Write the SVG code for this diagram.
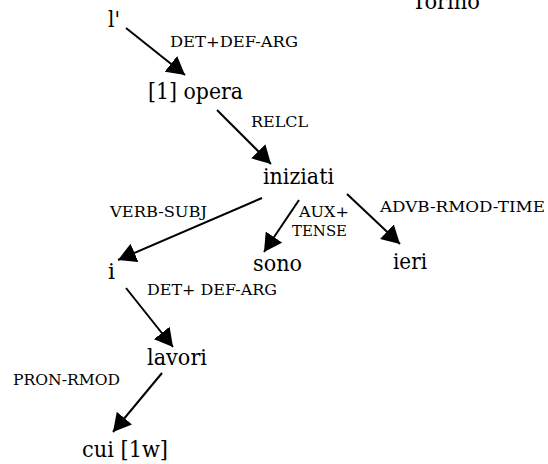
<svg xmlns="http://www.w3.org/2000/svg" width="548" height="464" viewBox="0 0 548 464">
<style>
text{font-family:'DejaVu Serif','Liberation Serif','Times New Roman',Times,serif;fill:#000}
.n{font-size:22px}
.l{font-size:15.5px}
.e{stroke:#000;stroke-width:2;fill:none;marker-end:url(#ah)}
</style>
<defs>
<marker id="ah" viewBox="0 0 18 20" refX="18" refY="10" markerWidth="18" markerHeight="20" markerUnits="userSpaceOnUse" orient="auto">
<path d="M0,0 L18,10 L0,20 z" fill="#000"/>
</marker>
</defs>
<rect width="548" height="464" fill="#fff"/>
<g id="connectors">
<line class="e" x1="126" y1="28" x2="185" y2="75"/>
<line class="e" x1="217" y1="110" x2="271" y2="164"/>
<line class="e" x1="262" y1="198" x2="118" y2="260"/>
<line class="e" x1="299" y1="200" x2="264" y2="252"/>
<line class="e" x1="347" y1="194" x2="400" y2="244"/>
<line class="e" x1="126" y1="288" x2="173" y2="347"/>
<line class="e" x1="162" y1="373" x2="113" y2="432"/>
</g>
<g id="labels">
<text class="l" x="170" y="47" textLength="128" lengthAdjust="spacingAndGlyphs">DET+DEF-ARG</text>
<text class="l" x="251" y="127" textLength="57" lengthAdjust="spacingAndGlyphs">RELCL</text>
<text class="l" x="110" y="217" textLength="97" lengthAdjust="spacingAndGlyphs">VERB-SUBJ</text>
<text class="l" x="299" y="217" textLength="50" lengthAdjust="spacingAndGlyphs">AUX+</text>
<text class="l" x="292" y="236" textLength="55" lengthAdjust="spacingAndGlyphs">TENSE</text>
<text class="l" x="380" y="212" textLength="165" lengthAdjust="spacingAndGlyphs">ADVB-RMOD-TIME</text>
<text class="l" x="147" y="295" textLength="130" lengthAdjust="spacingAndGlyphs">DET+ DEF-ARG</text>
<text class="l" x="13" y="385" textLength="107" lengthAdjust="spacingAndGlyphs">PRON-RMOD</text>
</g>
<g id="node-torino"><text class="n" x="412" y="9" textLength="68" lengthAdjust="spacingAndGlyphs">Torino</text></g>
<g id="node-l"><text class="n" x="108" y="27" textLength="12" lengthAdjust="spacingAndGlyphs">l'</text></g>
<g id="node-opera"><text class="n" x="148" y="99" textLength="95" lengthAdjust="spacingAndGlyphs">[1] opera</text></g>
<g id="node-iniziati"><text class="n" x="263" y="184" textLength="71" lengthAdjust="spacingAndGlyphs">iniziati</text></g>
<g id="node-i"><text class="n" x="108" y="279" textLength="7" lengthAdjust="spacingAndGlyphs">i</text></g>
<g id="node-sono"><text class="n" x="253" y="271" textLength="49" lengthAdjust="spacingAndGlyphs">sono</text></g>
<g id="node-ieri"><text class="n" x="393" y="269" textLength="34" lengthAdjust="spacingAndGlyphs">ieri</text></g>
<g id="node-lavori"><text class="n" x="147" y="365" textLength="60" lengthAdjust="spacingAndGlyphs">lavori</text></g>
<g id="node-cui"><text class="n" x="82" y="457" textLength="86" lengthAdjust="spacingAndGlyphs">cui [1w]</text></g>
</svg>
